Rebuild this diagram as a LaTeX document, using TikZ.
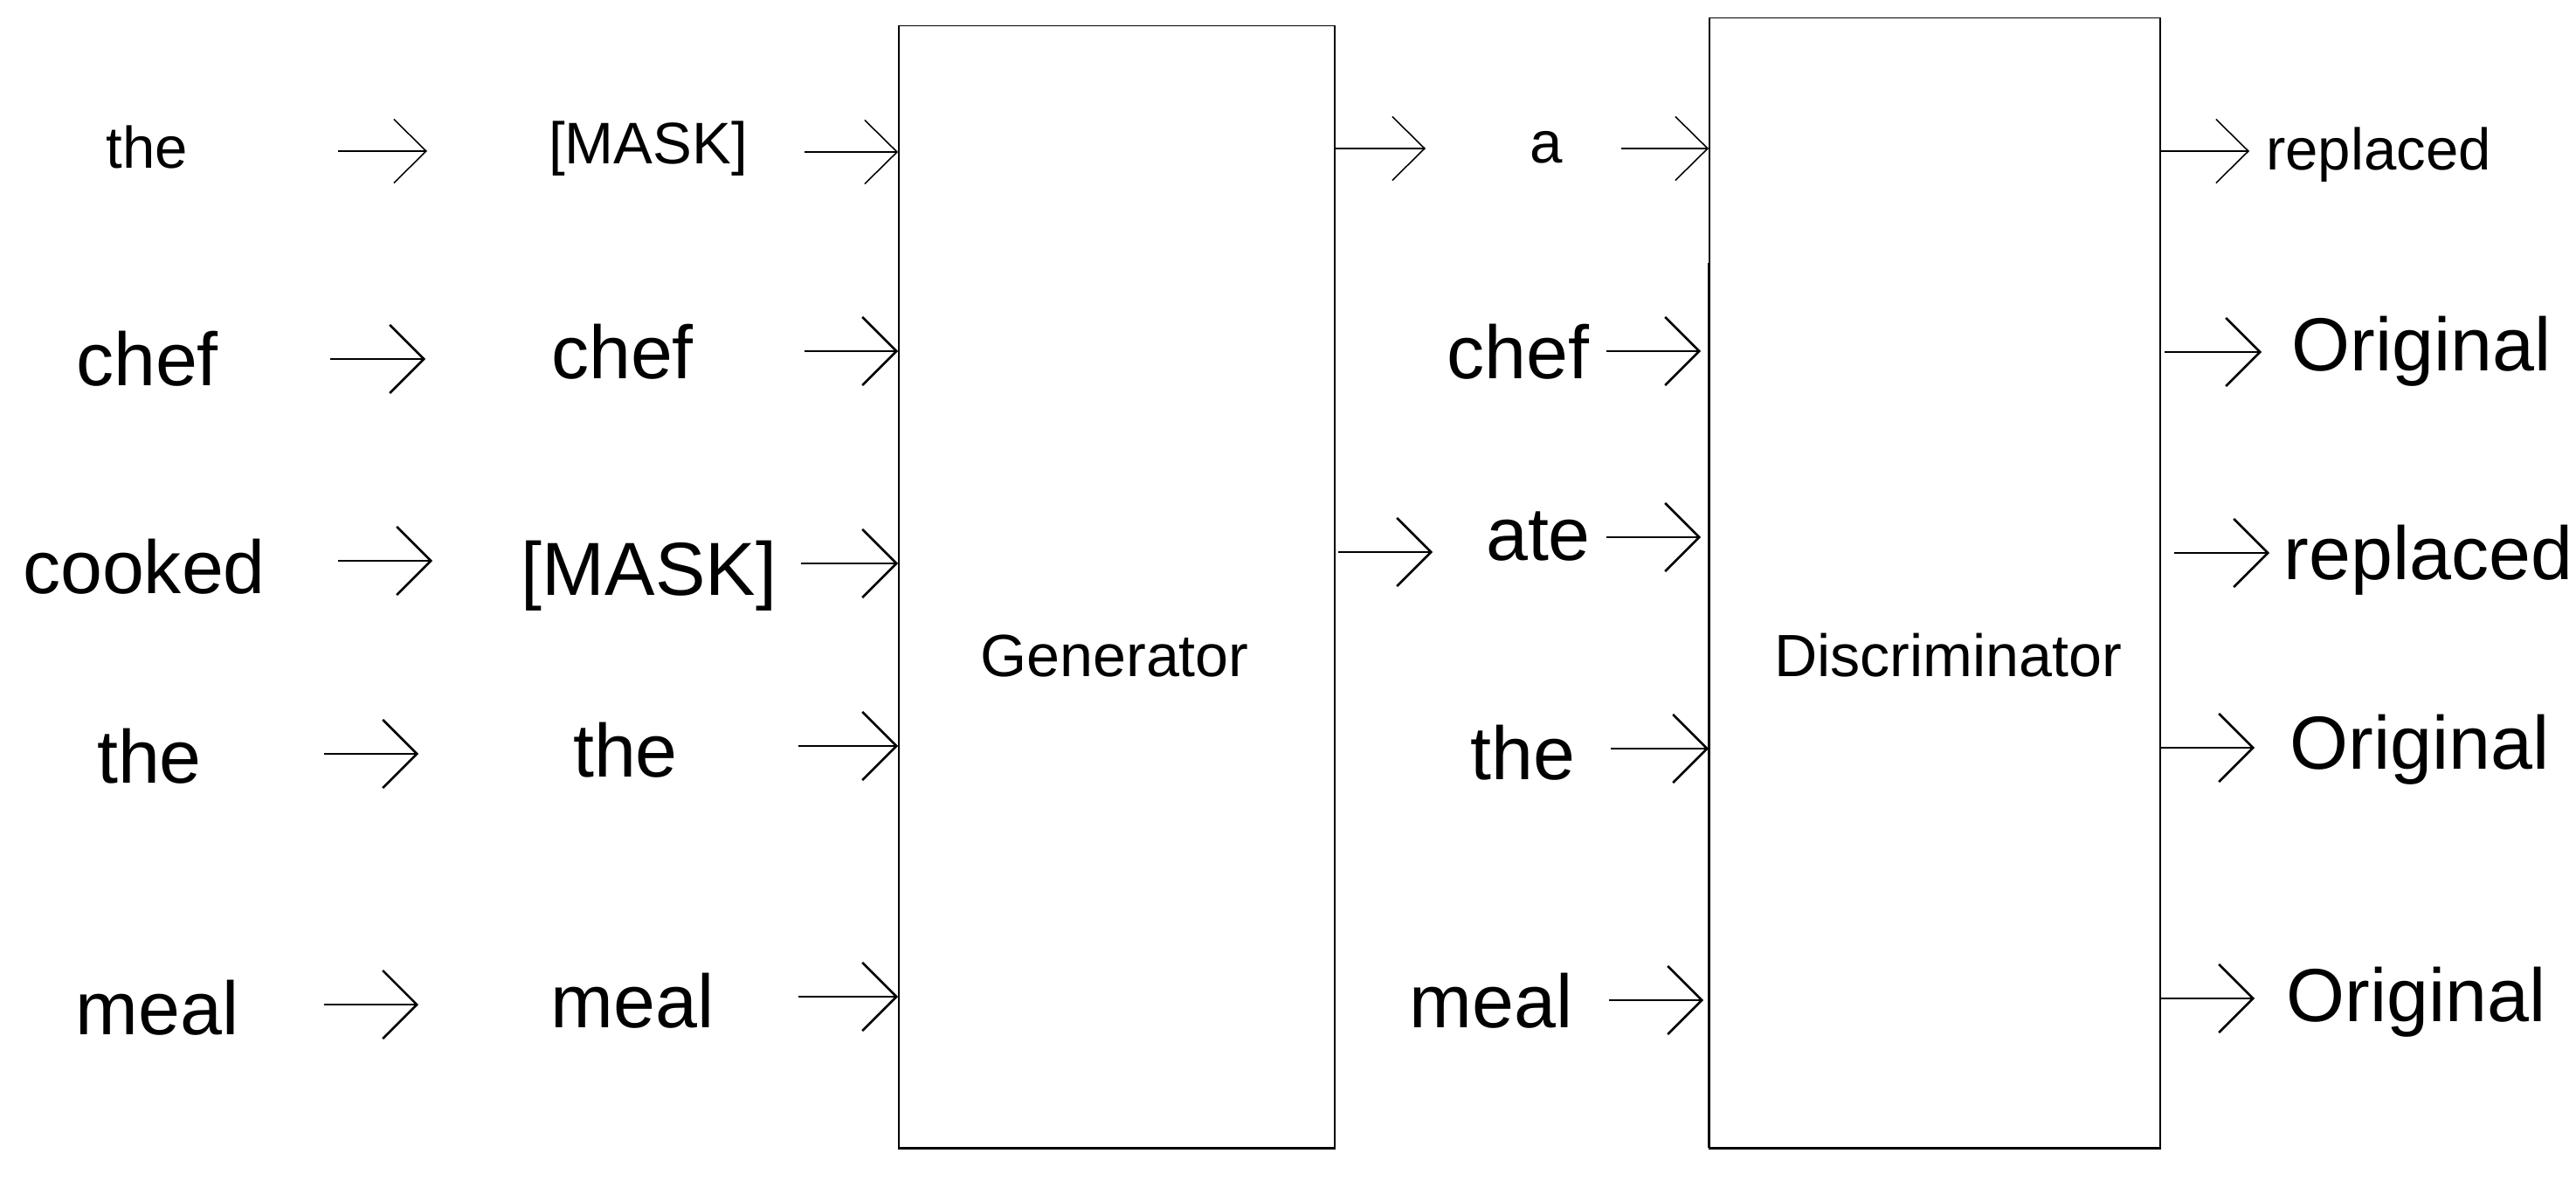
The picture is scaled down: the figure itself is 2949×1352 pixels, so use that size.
\documentclass[tikz,border=0pt]{standalone}
\usepackage{fontspec}
\setmainfont{Liberation Sans}
\usetikzlibrary{arrows.meta}
\begin{document}
\begin{tikzpicture}[x=0.01cm,y=-0.01cm,
  big/.style={font=\fontsize{24.5}{24.5}\selectfont, inner sep=0pt, anchor=base},
  small/.style={font=\fontsize{19.1}{19.1}\selectfont, inner sep=0pt, anchor=base},
  boxlabel/.style={font=\fontsize{19.4}{19.4}\selectfont, inner sep=0pt, anchor=base},
  arr/.style={-{Straight Barb[length=3.9mm,width=7.8mm]}, line width=0.75pt},
  arrs/.style={-{Straight Barb[length=3.7mm,width=7.3mm]}, line width=0.45pt},
  boxst/.style={draw, line width=0.45pt, inner sep=0pt},
  boxbottom/.style={line width=0.9pt}
]
\useasboundingbox (0,0) rectangle (2949,1352);

% boxes
\node[boxst, minimum width=4.99cm, minimum height=12.83cm] (gen) at (1278.5,671.5) {};
\node[boxst, minimum width=5.16cm, minimum height=12.92cm] (disc) at (2215,667) {};
\draw[boxbottom] (gen.south west) -- (gen.south east);
\draw[boxbottom] (disc.south west) -- (disc.south east);
\draw[boxbottom] (disc.south west) -- ++(0,-1013);
\node[boxlabel] (genlabel) at (1276,774) {Generator};
\node[boxlabel] (disclabel) at (2230,774) {Discriminator};

% column 1: input words
\node[small] (t1) at (168.5,193) {the};
\node[big]   (t2) at (168.5,442) {chef};
\node[big]   (t3) at (165,679) {cooked};
\node[big]   (t4) at (171,896) {the};
\node[big]   (t5) at (180,1184) {meal};

% column 2: masked words
\node[small] (m1) at (742,188) {[MASK]};
\node[big]   (m2) at (712.5,433) {chef};
\node[big]   (m3) at (743,681) {[MASK]};
\node[big]   (m4) at (716,889) {the};
\node[big]   (m5) at (724,1176) {meal};

% column 3: generated words
\node[small] (g1) at (1770,187) {a};
\node[big]   (g2) at (1738,433) {chef};
\node[big]   (g3) at (1761,641) {ate};
\node[big]   (g4) at (1743.5,892) {the};
\node[big]   (g5) at (1707,1176) {meal};

% column 4: outputs
\node[small] (o1) at (2723,195) {replaced};
\node[big]   (o2) at (2772,424) {Original};
\node[big]   (o3) at (2780,663) {replaced};
\node[big]   (o4) at (2770,880) {Original};
\node[big]   (o5) at (2766,1169) {Original};

% arrow end points
\coordinate (a1s) at (387,173);  \coordinate (a1e) at (489,173);
\coordinate (a2s) at (378,411);  \coordinate (a2e) at (487,411);
\coordinate (a3s) at (387,642);  \coordinate (a3e) at (495,642);
\coordinate (a4s) at (371,863);  \coordinate (a4e) at (479,863);
\coordinate (a5s) at (371,1150); \coordinate (a5e) at (479,1150);

\coordinate (b1s) at (921,174);
\coordinate (b2s) at (921,402);
\coordinate (b3s) at (917,645);
\coordinate (b4s) at (914,854);
\coordinate (b5s) at (914,1141);

\coordinate (c1e) at (1632,170);
\coordinate (c3s) at (1532,632); \coordinate (c3e) at (1640,632);

\coordinate (d1s) at (1856,170);
\coordinate (d2s) at (1839,402);
\coordinate (d3s) at (1839,615);
\coordinate (d4s) at (1844,857);
\coordinate (d5s) at (1842,1145);

\coordinate (e1e) at (2575,173);
\coordinate (e2s) at (2478,403); \coordinate (e2e) at (2589,403);
\coordinate (e3s) at (2489,633); \coordinate (e3e) at (2598,633);
\coordinate (e4e) at (2581,856);
\coordinate (e5e) at (2581,1143);

% arrows: input -> masked
\draw[arrs] (a1s) -- (a1e);
\draw[arr]  (a2s) -- (a2e);
\draw[arr]  (a3s) -- (a3e);
\draw[arr]  (a4s) -- (a4e);
\draw[arr]  (a5s) -- (a5e);

% arrows: masked -> generator
\draw[arrs] (b1s) -- (b1s -| gen.west);
\draw[arr]  (b2s) -- (b2s -| gen.west);
\draw[arr]  (b3s) -- (b3s -| gen.west);
\draw[arr]  (b4s) -- (b4s -| gen.west);
\draw[arr]  (b5s) -- (b5s -| gen.west);

% arrows: generator -> generated words
\draw[arrs] (c1e -| gen.east) -- (c1e);
\draw[arr]  (c3s) -- (c3e);

% arrows: generated words -> discriminator
\draw[arrs] (d1s) -- (d1s -| disc.west);
\draw[arr]  (d2s) -- ([xshift=-0.09cm]d2s -| disc.west);
\draw[arr]  (d3s) -- ([xshift=-0.09cm]d3s -| disc.west);
\draw[arr]  (d4s) -- (d4s -| disc.west);
\draw[arr]  (d5s) -- ([xshift=-0.06cm]d5s -| disc.west);

% arrows: discriminator -> outputs
\draw[arrs] (e1e -| disc.east) -- (e1e);
\draw[arr]  (e2s) -- (e2e);
\draw[arr]  (e3s) -- (e3e);
\draw[arr]  (e4e -| disc.east) -- (e4e);
\draw[arr]  (e5e -| disc.east) -- (e5e);
\end{tikzpicture}
\end{document}
